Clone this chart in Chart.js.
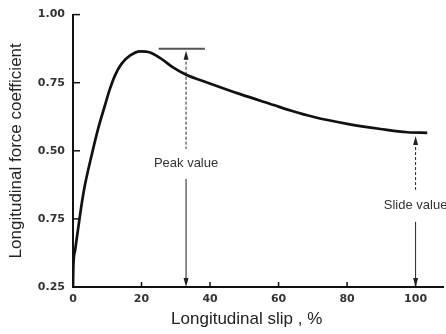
<!DOCTYPE html>
<html>
<head>
<meta charset="utf-8">
<script src="https://cdn.jsdelivr.net/npm/chart.js@4.4.1/dist/chart.umd.min.js"></script>
<style>
  html, body { margin: 0; padding: 0; background: #fff; }
  #wrap { width: 446px; height: 334px; }
</style>
</head>
<body>
<div id="wrap"><canvas id="chart" width="446" height="334"></canvas></div>
<script>
// curve
const slip  = [0, 0.1, 0.6, 1.55, 2.5, 3.5, 5.5, 7.4, 9.4, 10.8, 12.3, 14.2, 16.7, 19.6, 22.5, 25.5, 29.3, 33.2, 39.1, 48.8, 58.6, 63.5, 70.3, 80.0, 89.8, 97.6, 103.4];
const coeff = [0, 0.073, 0.134, 0.219, 0.302, 0.375, 0.487, 0.584, 0.670, 0.728, 0.778, 0.820, 0.850, 0.865, 0.861, 0.840, 0.805, 0.778, 0.751, 0.708, 0.668, 0.648, 0.624, 0.599, 0.580, 0.568, 0.566];

// y tick labels as printed (bottom to top)
const yTickLabels = ["0.25", "0.75", "0.50", "0.75", "1.00"];

// annotations (data units)
const peakMarkX = [25, 38.5];
const peakMarkY = 0.875;
const peakArrowX = 33;
const peakLabelY = 0.452;
const slideArrowX = 100;
const slideArrowTop = 0.554;
const slideLabelY = 0.298;
const xTitleAt = 50.7;

let points = slip.map((s, i) => ({x: s, y: coeff[i]}));

function arrowHead(ctx, x, y, dir){
    // dir = -1 points up, 1 points down
    ctx.beginPath();
    ctx.moveTo(x, y);
    ctx.lineTo(x - 2.5, y - dir * 9);
    ctx.lineTo(x + 2.5, y - dir * 9);
    ctx.closePath();
    ctx.fill();
}

function vArrow(ctx, x, yTop, yLabel, yBottom, label, gap){
    ctx.strokeStyle = "#222";
    ctx.fillStyle = "#222";
    ctx.lineWidth = 1;
    // upper part, broken
    ctx.setLineDash([3, 2]);
    ctx.beginPath();
    ctx.moveTo(x, yTop + 6);
    ctx.lineTo(x, yLabel - gap);
    ctx.stroke();
    ctx.setLineDash([]);
    // lower part
    ctx.beginPath();
    ctx.moveTo(x, yLabel + gap);
    ctx.lineTo(x, yBottom - 4);
    ctx.stroke();
    arrowHead(ctx, x, yTop, -1);
    arrowHead(ctx, x, yBottom, 1);

    ctx.font = "13px 'Liberation Sans', Arial, sans-serif";
    ctx.fillStyle = "#333";
    ctx.textAlign = "center";
    ctx.textBaseline = "middle";
    ctx.fillText(label, x, yLabel);
}

const extras = {
    id: "extras",
    afterDraw(chart){
        let ctx = chart.ctx;
        let xs = chart.scales.x;
        let ys = chart.scales.y;
        let area = chart.chartArea;
        ctx.save();

        // inward tick marks
        ctx.strokeStyle = "#111";
        ctx.lineWidth = 1.5;
        ys.ticks.forEach(t => {
            let py = ys.getPixelForValue(t.value);
            if (t.value === 0) return;
            ctx.beginPath();
            ctx.moveTo(area.left, py);
            ctx.lineTo(area.left + 7, py);
            ctx.stroke();
        });
        xs.ticks.forEach(t => {
            if (t.value === 0) return;
            let px = xs.getPixelForValue(t.value);
            ctx.beginPath();
            ctx.moveTo(px, area.bottom);
            ctx.lineTo(px, area.bottom - 5);
            ctx.stroke();
        });

        // peak marker
        let pmY = ys.getPixelForValue(peakMarkY);
        ctx.strokeStyle = "#555";
        ctx.lineWidth = 2;
        ctx.beginPath();
        ctx.moveTo(xs.getPixelForValue(peakMarkX[0]), pmY);
        ctx.lineTo(xs.getPixelForValue(peakMarkX[1]), pmY);
        ctx.stroke();

        let base = ys.getPixelForValue(0);
        vArrow(ctx, xs.getPixelForValue(peakArrowX), pmY + 2,
            ys.getPixelForValue(peakLabelY), base, "Peak value", 15);
        vArrow(ctx, xs.getPixelForValue(slideArrowX), ys.getPixelForValue(slideArrowTop),
            ys.getPixelForValue(slideLabelY), base, "Slide value", 16);

        // x axis title
        ctx.font = "17px 'Liberation Sans', Arial, sans-serif";
        ctx.fillStyle = "#222";
        ctx.textAlign = "center";
        ctx.textBaseline = "middle";
        ctx.fillText("Longitudinal slip , %", xs.getPixelForValue(xTitleAt), 319);

        ctx.restore();
    }
};

let tickFont = {family: "'DejaVu Sans', sans-serif", size: 11, weight: "bold"};

new Chart(document.getElementById("chart").getContext("2d"), {
    type: "line",
    data: {
        datasets: [{
            data: points,
            borderColor: "#111",
            borderWidth: 2.7,
            pointRadius: 0,
            cubicInterpolationMode: "monotone",
            fill: false
        }]
    },
    options: {
        responsive: false,
        animation: false,
        devicePixelRatio: 1,
        layout: {padding: {top: 13, right: 3, left: 0, bottom: 0}},
        plugins: {legend: {display: false}, tooltip: {enabled: false}},
        scales: {
            x: {
                type: "linear",
                min: 0,
                max: 108,
                afterFit: s => { s.height = 47; },
                grid: {display: false, drawTicks: false},
                border: {display: true, color: "#111", width: 2},
                ticks: {
                    stepSize: 20,
                    includeBounds: false,
                    padding: 6,
                    color: "#333",
                    font: tickFont,
                    maxRotation: 0
                }
            },
            y: {
                type: "linear",
                min: 0,
                max: 1,
                afterFit: s => { s.width = 73; },
                grid: {display: false, drawTicks: false},
                border: {display: true, color: "#111", width: 2},
                ticks: {
                    stepSize: 0.25,
                    padding: 8,
                    color: "#333",
                    font: tickFont,
                    callback: (v) => yTickLabels[Math.round(v / 0.25)]
                },
                title: {
                    display: true,
                    text: "Longitudinal force coefficient",
                    color: "#222",
                    font: {family: "'Liberation Sans', Arial, sans-serif", size: 17},
                    padding: {top: 6, bottom: 0}
                }
            }
        }
    },
    plugins: [extras]
});
</script>
</body>
</html>
